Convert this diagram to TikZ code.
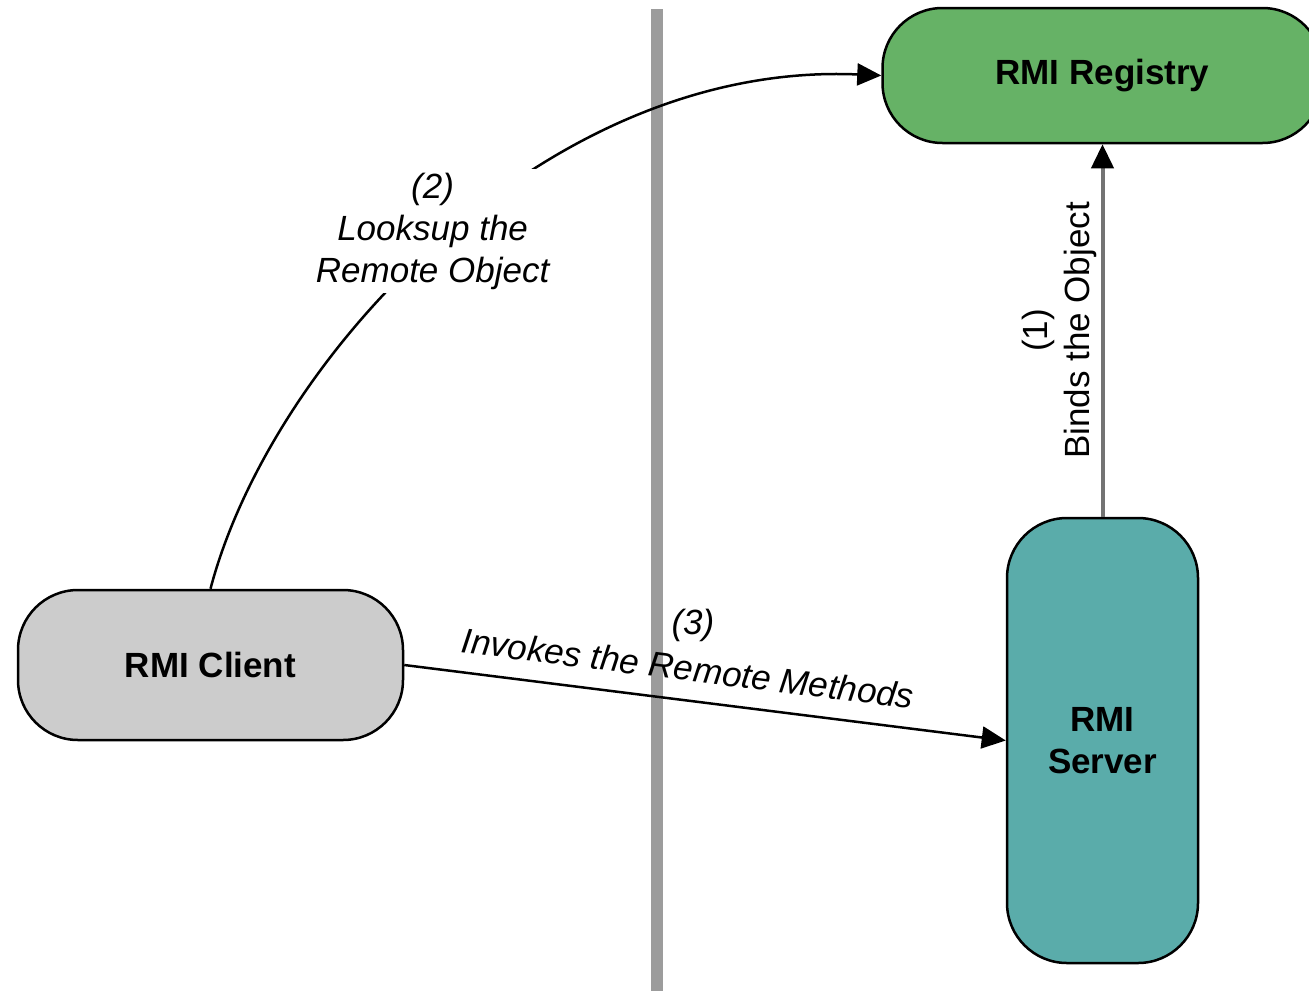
\documentclass[tikz,border=0pt]{standalone}
\usepackage{fontspec}
\setmainfont{Liberation Sans}
\usetikzlibrary{arrows.meta}

\definecolor{regGreen}{HTML}{66B266}
\definecolor{srvTeal}{HTML}{5AACAA}
\definecolor{cliGray}{HTML}{CCCCCC}
\definecolor{sepGray}{HTML}{9C9C9C}

\begin{document}
\begin{tikzpicture}[x=1pt,y=-1pt,
	conn/.style={line width=2.5pt,-{Triangle[length=24pt,width=22pt]}},
	lbl/.style={font=\fontsize{35pt}{42pt}\selectfont\itshape,align=center,inner sep=4pt,text=black}]
	\useasboundingbox (0,0) rectangle (1309,991);

	% separator
	\draw [sepGray,line width=12pt] (657,9) -- (657,991);

	\begin{scope}[every node/.style={draw,line width=2.5pt,rounded corners=60pt,align=center,inner sep=0pt,font=\fontsize{35pt}{42pt}\selectfont\bfseries}]
	\node [fill=regGreen,minimum width=440pt,minimum height=135pt] (R) at (1102.5,75.5) {RMI Registry};
	\node [fill=srvTeal,minimum width=191pt,minimum height=445pt] (S) at (1102.5,740.5) {RMI\\Server};
	\node [fill=cliGray,minimum width=385pt,minimum height=150pt] (C) at (210.5,665) {RMI Client};
	\end{scope}

	\draw [conn,black!55,line width=4pt,-{Triangle[length=24pt,width=22pt,color=black]}] (S.north) -- node [lbl,font=\fontsize{35pt}{42pt}\selectfont,midway,rotate=90,anchor=south] {(1)\\Binds the Object} (R.south);
	\draw [conn] (C.north) .. controls +(60,-228) and +(-338,-15) .. node [lbl,pos=0.5,fill=white,xshift=-9pt,yshift=10pt] {(2)\\Looksup the\\Remote Object} (R.west);
	\draw [conn] (C.east) -- node [lbl,sloped,above=14pt,pos=0.465] {Invokes the Remote Methods} node [lbl,pos=0.48,above=54pt] {(3)} (S.west);
\end{tikzpicture}
\end{document}
